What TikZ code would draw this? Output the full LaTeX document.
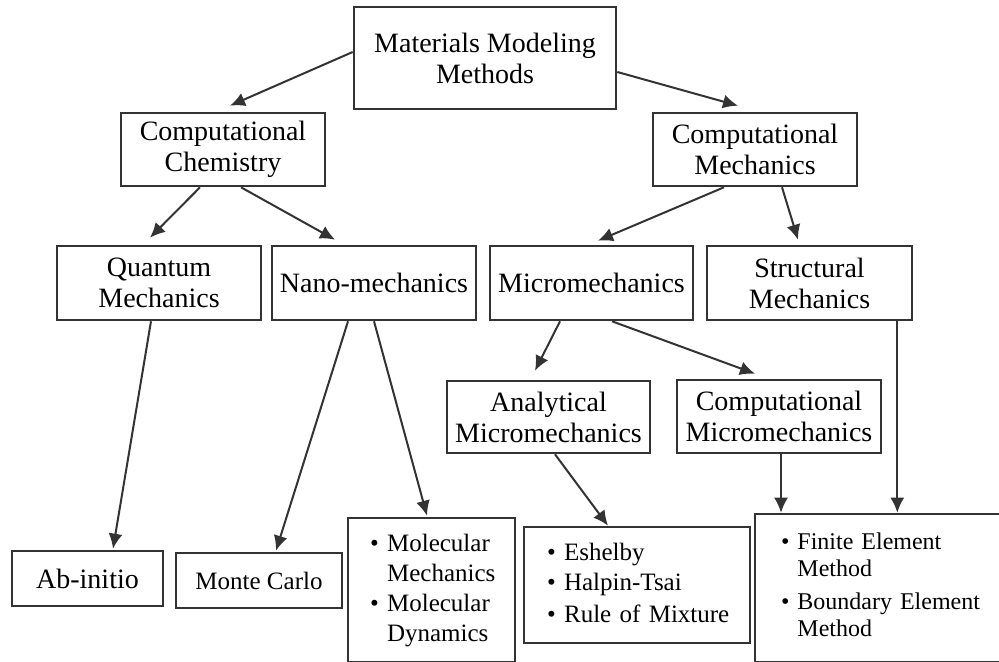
\documentclass[tikz,border=0pt]{standalone}
\usepackage{fontspec}
\setmainfont{Liberation Serif}
\usetikzlibrary{arrows.meta,calc}

\begin{document}
\begin{tikzpicture}[x=0.5pt,y=-0.5pt,
  box/.style={draw=black!80, line width=1.3pt, align=center, inner sep=0pt, font=\fontsize{14}{15.5}\selectfont},
  list/.style={box, align=left, inner ysep=0pt, font=\fontsize{12.5}{15}\selectfont},
  arr/.style={draw=black!80, line width=1pt, -{Latex[length=7.5pt,width=7pt]}}]
  \useasboundingbox (0,0) rectangle (999,662);
  \clip (0,0) rectangle (999,662);
  \node[box, minimum width=131pt, minimum height=51pt] (mmm) at (485,58) {Materials Modeling\\Methods};
  \node[box, minimum width=102pt, minimum height=36.5pt] (chem) at (223,149.5) {Computational\\Chemistry};
  \node[box, minimum width=102pt, minimum height=36.5pt] (mech) at (755,149.5) {Computational\\Mechanics};
  \node[box, minimum width=102pt, minimum height=37pt] (quant) at (159,283) {Quantum\\Mechanics};
  \node[box, minimum width=102pt, minimum height=37pt] (nano) at (374,283) {Nano-mechanics};
  \node[box, minimum width=101.5pt, minimum height=37pt] (micro) at (591.5,283) {Micromechanics};
  \node[box, minimum width=102.5pt, minimum height=37pt] (struct) at (809.5,283) {Structural\\Mechanics};
  \node[box, minimum width=101.5pt, minimum height=36pt] (anal) at (548.5,417) {Analytical\\Micromechanics};
  \node[box, minimum width=102pt, minimum height=36.5pt] (cmicro) at (779,416.5) {Computational\\Micromechanics};
  \node[box, minimum width=75.5pt, minimum height=27.5pt] (abinit) at (87.5,578.5) {Ab-initio};
  \node[box, minimum width=83pt, minimum height=27.5pt, font=\fontsize{12.5}{15}\selectfont] (monte) at (259,580.5) {Monte Carlo};
  \node[list, text width=61.5pt, inner xsep=11pt, minimum height=72pt] (molec) at (431.5,590)
    {\begin{tabular}{@{}l@{\ }l@{}}\textbullet & Molecular\\ & Mechanics\\ \textbullet & Molecular\\ & Dynamics\end{tabular}};
  \node[list, text width=90pt, inner xsep=11.5pt, minimum height=58pt] (eshel) at (637,585)
    {\begin{tabular}{@{}l@{\ }l@{}}\textbullet & Eshelby\\ \textbullet & Halpin-Tsai\\[1pt] \textbullet & Rule of Mixture\end{tabular}};
  \node[list, text width=99pt, inner xsep=13pt, minimum height=74pt, font=\fontsize{12}{13.5}\selectfont] (fem) at (880,588)
    {\begin{tabular}{@{}l@{\ }l@{}}\textbullet & Finite Element\\ & Method\\[3pt] \textbullet & Boundary Element\\ & Method\end{tabular}};
  \draw[arr] ($(mmm.west)+(0,-6)$) -- ($(chem.north)+(7,-6)$);
  \draw[arr] ($(mmm.east)+(0,14)$) -- ($(mech.north)+(-17,-6)$);
  \draw[arr] ($(chem.south)+(-23,0)$) -- ($(quant.north)+(-9,-7)$);
  \draw[arr] ($(chem.south)+(18,0)$) -- ($(nano.north)+(-39,-5)$);
  \draw[arr] ($(mech.south)+(-31,0)$) -- ($(micro.north)+(6.5,-4)$);
  \draw[arr] ($(mech.south)+(27,0)$) -- ($(struct.north)+(-11.5,-5)$);
  \draw[arr] ($(quant.south)+(-8,0)$) -- ($(abinit.north)+(25.5,-1)$);
  \draw[arr] ($(nano.south)+(-26,0)$) -- ($(monte.north)+(17,-1)$);
  \draw[arr] (nano.south) -- ($(molec.north)+(-4.5,-1)$);
  \draw[arr] ($(micro.south)+(-31.5,0)$) -- ($(anal.north)+(-13.5,-9)$);
  \draw[arr] ($(micro.south)+(20.5,0)$) -- ($(cmicro.north)+(-24,-5)$);
  \draw[arr] ($(anal.south)+(6.5,0)$) -- ($(eshel.north)+(-29,0)$);
  \draw[arr] ($(cmicro.south)+(2,0)$) coordinate (c1) -- (c1 |- fem.north);
  \draw[arr] ($(struct.south east)+(-16,0)$) coordinate (c2) -- (c2 |- fem.north);
\end{tikzpicture}
\end{document}
